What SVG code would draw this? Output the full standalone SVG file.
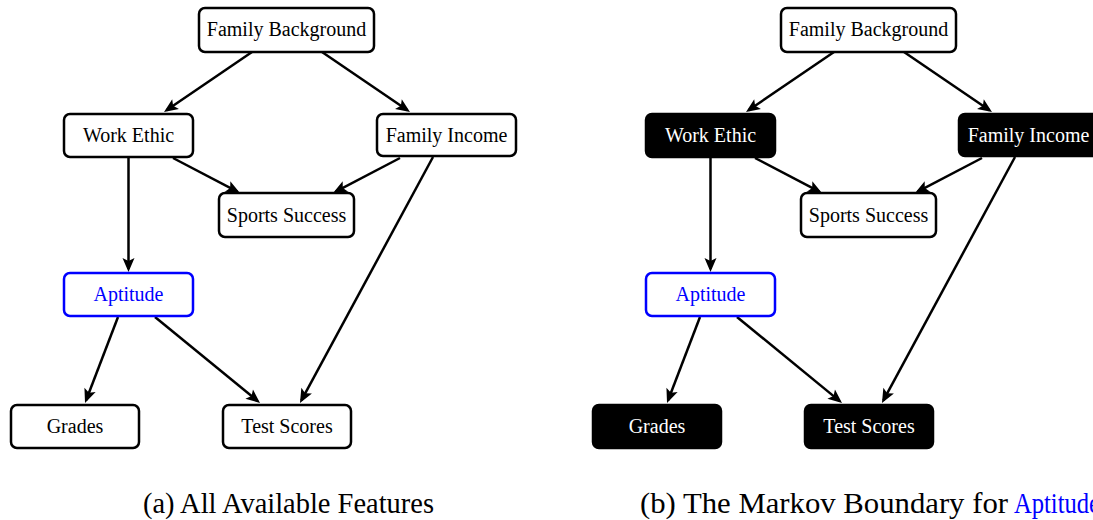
<svg xmlns="http://www.w3.org/2000/svg" width="1093" height="520" viewBox="0 0 1093 520">
<style>
  .box { fill: #ffffff; stroke: #000000; stroke-width: 2.5; }
  .obs { fill: #000000; stroke: #000000; stroke-width: 2.5; }
  .tgt { fill: #ffffff; stroke: #0000ff; stroke-width: 2.5; }
  .lbl { font-family: "Liberation Serif", "Times New Roman", serif; font-size: 20px; text-anchor: middle; fill: #000000; }
  .wl { fill: #ffffff; }
  .bl { fill: #0000ff; }
  .edge { stroke: #000000; stroke-width: 2.5; fill: none; marker-end: url(#arr); }
  .cap { font-family: "Liberation Serif", "Times New Roman", serif; font-size: 29px; fill: #000000; }
</style>
<defs>
  <marker id="arr" markerUnits="userSpaceOnUse" markerWidth="18" markerHeight="16" viewBox="-14 -8 18 16" refX="0" refY="0" orient="auto">
    <path d="M3,0 L-11,-6 L-8,0 L-11,6 Z" fill="#000000"/>
  </marker>
</defs>

<g id="connectors">
  <!-- panel a -->
  <line class="edge" x1="252" y1="52" x2="166.5" y2="110.3"/>
  <line class="edge" x1="322" y1="52" x2="407.5" y2="110.3"/>
  <line class="edge" x1="173" y1="158" x2="237.3" y2="191.6"/>
  <line class="edge" x1="400" y1="158" x2="335.7" y2="191.6"/>
  <line class="edge" x1="128.5" y1="157" x2="128.5" y2="269"/>
  <line class="edge" x1="433" y1="157" x2="301.4" y2="400.4"/>
  <line class="edge" x1="118" y1="317" x2="86.1" y2="400.2"/>
  <line class="edge" x1="155" y1="317" x2="257.7" y2="401.1"/>
  <!-- panel b -->
  <line class="edge" x1="834" y1="52" x2="748.5" y2="110.3"/>
  <line class="edge" x1="904" y1="52" x2="989.5" y2="110.3"/>
  <line class="edge" x1="755" y1="158" x2="819.3" y2="191.6"/>
  <line class="edge" x1="982" y1="158" x2="917.7" y2="191.6"/>
  <line class="edge" x1="710.5" y1="157" x2="710.5" y2="269"/>
  <line class="edge" x1="1015" y1="157" x2="883.4" y2="400.4"/>
  <line class="edge" x1="700" y1="317" x2="668.1" y2="400.2"/>
  <line class="edge" x1="737" y1="317" x2="839.7" y2="401.1"/>
</g>

<!-- Panel a nodes -->
<g id="a-family-background">
  <rect class="box" x="199" y="8" width="175" height="44" rx="6"/>
  <text class="lbl" x="286.5" y="36">Family Background</text>
</g>
<g id="a-work-ethic">
  <rect class="box" x="64" y="114" width="129" height="43" rx="6"/>
  <text class="lbl" x="128.5" y="142">Work Ethic</text>
</g>
<g id="a-family-income">
  <rect class="box" x="377" y="114" width="139" height="42" rx="6"/>
  <text class="lbl" x="446.5" y="141.5">Family Income</text>
</g>
<g id="a-sports-success">
  <rect class="box" x="219" y="193" width="135" height="44" rx="6"/>
  <text class="lbl" x="286.5" y="221.5">Sports Success</text>
</g>
<g id="a-aptitude">
  <rect class="tgt" x="64" y="273" width="129" height="43" rx="6"/>
  <text class="lbl bl" x="128.5" y="301">Aptitude</text>
</g>
<g id="a-grades">
  <rect class="box" x="11" y="405" width="128" height="43" rx="6"/>
  <text class="lbl" x="75" y="433">Grades</text>
</g>
<g id="a-test-scores">
  <rect class="box" x="223" y="405" width="128" height="43" rx="6"/>
  <text class="lbl" x="287" y="433">Test Scores</text>
</g>

<!-- Panel b nodes -->
<g id="b-family-background">
  <rect class="box" x="781" y="8" width="175" height="44" rx="6"/>
  <text class="lbl" x="868.5" y="36">Family Background</text>
</g>
<g id="b-work-ethic">
  <rect class="obs" x="646" y="114" width="129" height="43" rx="6"/>
  <text class="lbl wl" x="710.5" y="142">Work Ethic</text>
</g>
<g id="b-family-income">
  <rect class="obs" x="959" y="114" width="139" height="42" rx="6"/>
  <text class="lbl wl" x="1028.5" y="141.5">Family Income</text>
</g>
<g id="b-sports-success">
  <rect class="box" x="801" y="193" width="135" height="44" rx="6"/>
  <text class="lbl" x="868.5" y="221.5">Sports Success</text>
</g>
<g id="b-aptitude">
  <rect class="tgt" x="646" y="273" width="129" height="43" rx="6"/>
  <text class="lbl bl" x="710.5" y="301">Aptitude</text>
</g>
<g id="b-grades">
  <rect class="obs" x="593" y="405" width="128" height="43" rx="6"/>
  <text class="lbl wl" x="657" y="433">Grades</text>
</g>
<g id="b-test-scores">
  <rect class="obs" x="805" y="405" width="128" height="43" rx="6"/>
  <text class="lbl wl" x="869" y="433">Test Scores</text>
</g>

<g id="captions">
  <text class="cap" x="143" y="513" textLength="291" lengthAdjust="spacingAndGlyphs">(a) All Available Features</text>
  <text class="cap" x="640" y="513" textLength="368" lengthAdjust="spacingAndGlyphs">(b) The Markov Boundary for</text>
  <text class="cap" x="1014" y="513" textLength="86" lengthAdjust="spacingAndGlyphs" style="fill:#0000ff">Aptitude</text>
</g>
</svg>
